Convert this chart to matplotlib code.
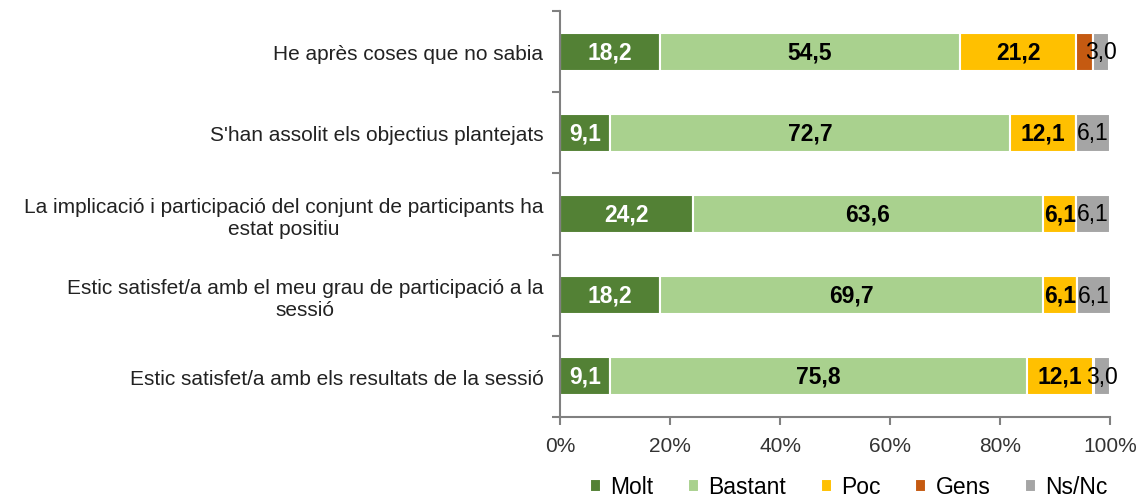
import matplotlib.pyplot as plt
import numpy as np

plt.rcParams['font.family'] = ['Liberation Sans', 'DejaVu Sans']

categories = [
    "He après coses que no sabia",
    "S'han assolit els objectius plantejats",
    "La implicació i participació del conjunt de participants ha\nestat positiu",
    "Estic satisfet/a amb el meu grau de participació a la\nsessió",
    "Estic satisfet/a amb els resultats de la sessió",
]
series = ["Molt", "Bastant", "Poc", "Gens", "Ns/Nc"]
molt = [18.2, 9.1, 24.2, 18.2, 9.1]
bastant = [54.5, 72.7, 63.6, 69.7, 75.8]
poc = [21.2, 12.1, 6.1, 6.1, 12.1]
gens = [3.0, 0, 0, 0, 0]
nsnc = [3.0, 6.1, 6.1, 6.1, 3.0]

colors = ["#538135", "#a9d18e", "#ffc000", "#c55a11", "#a5a5a5"]
label_style = [("white", "bold"), ("black", "bold"), ("black", "bold"), (None, None), ("black", "normal")]

fig = plt.figure(figsize=(11.4, 5.02), dpi=100)
ax = fig.add_axes([560 / 1140, 84 / 502, 550 / 1140, 406 / 502])

y = np.arange(len(categories))
left = np.zeros(len(categories))
for name, vals, col, (tc, tw) in zip(series, [molt, bastant, poc, gens, nsnc], colors, label_style):
    vals = np.array(vals)
    ax.barh(y, vals, left=left, height=0.47, color=col, edgecolor="white", linewidth=1.5, label=name)
    if tc is not None:
        for yi, l, v in zip(y, left, vals):
            if v > 0:
                ax.text(l + v / 2, yi, ("%.1f" % v).replace(".", ","), ha="center", va="center",
                        color=tc, fontweight=tw, fontsize=16.5)
    left += vals

ax.set_xlim(0, 100)
ax.set_ylim(len(categories) - 0.5, -0.5)
ax.set_yticks(y)
ax.set_yticklabels(categories, fontsize=15, color="#222222", multialignment="center")
ax.set_yticks(np.arange(-0.5, len(categories)), minor=True)
ax.tick_params(axis="y", which="major", length=0, pad=12)
ax.tick_params(axis="y", which="minor", length=6, color="#808080", width=1.5)
ax.set_xticks(np.arange(0, 101, 20))
ax.set_xticklabels(["%d%%" % v for v in range(0, 101, 20)], fontsize=15, color="#333333")
ax.tick_params(axis="x", length=6, color="#808080", width=1.5, pad=8)
for s in ["top", "right"]:
    ax.spines[s].set_visible(False)
for s in ["left", "bottom"]:
    ax.spines[s].set_color("#808080")
    ax.spines[s].set_linewidth(1.5)

ax.legend(loc="center", bbox_to_anchor=(0.525, -0.172), ncol=5, frameon=False,
          fontsize=16.5, handlelength=0.5, handleheight=0.5, handletextpad=0.4, columnspacing=1.5,
          borderpad=0)

fig.savefig("out.png", dpi=100)
